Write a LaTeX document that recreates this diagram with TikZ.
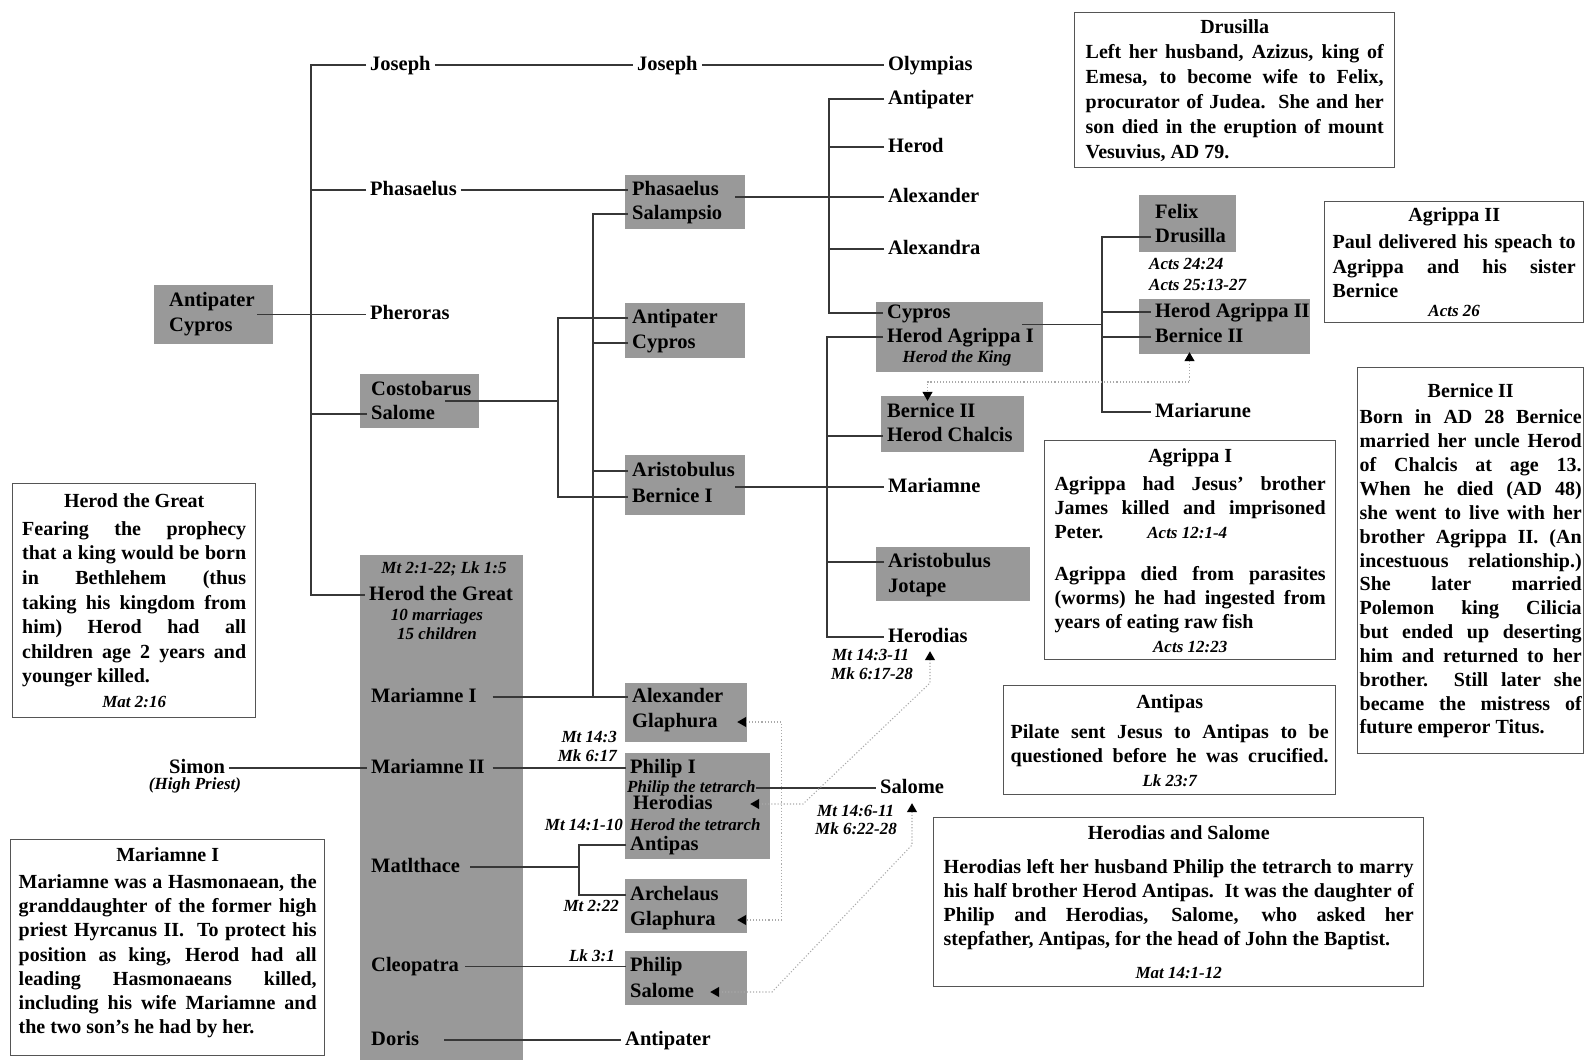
\documentclass[tikz,border=0pt]{standalone}
\usepackage{fontspec}
\setmainfont{Liberation Serif}
\usetikzlibrary{arrows.meta,fit}
\definecolor{boxgray}{RGB}{153,153,153}
\definecolor{linegray}{RGB}{55,55,55}
\definecolor{notegray}{RGB}{85,85,85}
\definecolor{dotgray}{RGB}{170,170,170}
\newcommand\nmfont{\fontsize{20.5}{24}\selectfont\bfseries}
\newcommand\rffont{\fontsize{17}{20}\selectfont\bfseries\itshape}
\newcommand\nt[1]{\hbox to\hsize{\hfil#1\hfil}}
\newcommand\jl[1]{\hbox to\hsize{#1}}
\newcommand\lf[1]{\hbox to\hsize{#1\hfil}}
\newcommand\notebody[3]{\vbox{\hsize=#1\fontsize{20}{#2}\selectfont\bfseries #3}}
\begin{document}
\begin{tikzpicture}[x=1pt,y=-1pt,
  nm/.style={anchor=west,font=\nmfont,inner xsep=4pt,inner ysep=2pt,text height=14pt,text depth=4pt},
  rf/.style={font=\rffont,inner sep=0pt,text height=12pt,text depth=3pt},
  gbox/.style={fill=boxgray,inner sep=0pt},
  note/.style={draw=notegray,line width=1.4pt,fill=white,inner sep=0pt,anchor=north west},
  ln/.style={draw=linegray,line width=1.3pt},
  dt/.style={draw=dotgray,line width=1.1pt,dotted},
  twotip/.style={{Triangle[length=9pt,width=10pt,color=black]}-{Triangle[length=9pt,width=10pt,color=black]}}]
\useasboundingbox (0,0) rectangle (1585,1060);
\fill[white] (0,0) rectangle (1585,1060);

% grey boxes
\node[gbox,fit={(154,285)(273,344)}] (bAC1) {};
\node[gbox,fit={(360,374)(479,428)}] (bCS) {};
\node[gbox,fit={(360,555)(523,1062)}] (bHG) {};
\node[gbox,fit={(625,175)(745,229)}] (bPS) {};
\node[gbox,fit={(625,303)(745,358)}] (bAC2) {};
\node[gbox,fit={(625,455)(745,515)}] (bAB) {};
\node[gbox,fit={(625,683)(747,742)}] (bAG) {};
\node[gbox,fit={(625,753)(770,859)}] (bPH) {};
\node[gbox,fit={(625,879)(747,933)}] (bArG) {};
\node[gbox,fit={(625,951)(747,1005)}] (bPSl) {};
\node[gbox,fit={(876,302)(1043,372)}] (bCH) {};
\node[gbox,fit={(881,396)(1024,452)}] (bBC) {};
\node[gbox,fit={(876,547)(1030,601)}] (bAJ) {};
\node[gbox,fit={(1139,195)(1236,252)}] (bFD) {};
\node[gbox,fit={(1139,299)(1310,354)}] (bAB2) {};

% names
\node[nm] (jos1) at (366,65) {Joseph};
\node[nm] (phas1) at (366,190) {Phasaelus};
\node[nm] (pher) at (366,314.5) {Pheroras};
\node[nm] (ac1A) at (165,301) {Antipater};
\node[nm] (ac1C) at (165,326) {Cypros};
\node[nm] (csC) at (367,390) {Costobarus};
\node[nm] (csS) at (367,414) {Salome};
\node[nm] (hgt) at (365,595) {Herod the Great};
\node[nm] (mar1) at (367,697) {Mariamne I};
\node[nm] (mar2) at (367,768) {Mariamne II};
\node[nm] (matl) at (367,867) {Matlthace};
\node[nm] (cleo) at (367,966.5) {Cleopatra};
\node[nm] (doris) at (367,1040) {Doris};
\node[nm] (simon) at (165,768) {Simon};
\node[nm] (jos2) at (633,65) {Joseph};
\node[nm] (psP) at (628,190) {Phasaelus};
\node[nm] (psS) at (628,214) {Salampsio};
\node[nm] (ac2A) at (628,318) {Antipater};
\node[nm] (ac2C) at (628,343) {Cypros};
\node[nm] (abA) at (628,471) {Aristobulus};
\node[nm] (abB) at (628,497) {Bernice I};
\node[nm] (agA) at (628,697) {Alexander};
\node[nm] (agG) at (628,722) {Glaphura};
\node[nm] (phP) at (626,768) {Philip I};
\node[rf,anchor=west] (phT) at (627,788) {Philip the tetrarch};
\node[nm] (phH) at (629,804) {Herodias};
\node[rf,anchor=west] (phHT) at (630,826) {Herod the tetrarch};
\node[nm] (phA) at (626,845) {Antipas};
\node[nm] (arA) at (626,895) {Archelaus};
\node[nm] (arG) at (626,920) {Glaphura};
\node[nm] (pslP) at (626,966.5) {Philip};
\node[nm] (pslS) at (626,992) {Salome};
\node[nm] (antp3) at (621,1040) {Antipater};
\node[nm] (olymp) at (884,65) {Olympias};
\node[nm] (c4a) at (884,99) {Antipater};
\node[nm] (c4h) at (884,147) {Herod};
\node[nm] (c4x) at (884,197) {Alexander};
\node[nm] (c4y) at (884,249) {Alexandra};
\node[nm] (chC) at (883,313) {Cypros};
\node[nm] (chH) at (883,337) {Herod Agrippa I};
\node[rf] (chK) at (957,358) {Herod the King};
\node[nm] (bcB) at (883,412) {Bernice II};
\node[nm] (bcH) at (883,436) {Herod Chalcis};
\node[nm] (mariamne) at (884,487) {Mariamne};
\node[nm] (ajA) at (884,562) {Aristobulus};
\node[nm] (ajJ) at (884,587) {Jotape};
\node[nm] (herodias) at (884,637) {Herodias};
\node[nm] (salome) at (876,788) {Salome};
\node[nm] (fdF) at (1151,213) {Felix};
\node[nm] (fdD) at (1151,237) {Drusilla};
\node[nm] (a2H) at (1151,312) {Herod Agrippa II};
\node[nm] (a2B) at (1151,337) {Bernice II};
\node[nm] (marr) at (1151,412) {Mariarune};

% references
\node[rf] (hgr) at (444,569) {Mt 2:1-22; Lk 1:5};
\node[rf] (hgm) at (437,616) {10 marriages};
\node[rf] (hgc) at (437,635) {15 children};
\node[rf,anchor=east] (r1) at (617,738) {Mt 14:3};
\node[rf,anchor=east] (r2) at (617,757) {Mk 6:17};
\node[rf,anchor=east] (r3) at (623,826) {Mt 14:1-10};
\node[rf,anchor=east] (r4) at (619,907) {Mt 2:22};
\node[rf,anchor=east] (r5) at (615,957) {Lk 3:1};
\node[rf,anchor=west] (r6) at (832,656) {Mt 14:3-11};
\node[rf,anchor=west] (r7) at (831,675) {Mk 6:17-28};
\node[rf,anchor=west] (r8) at (817,812) {Mt 14:6-11};
\node[rf,anchor=west] (r9) at (815,830) {Mk 6:22-28};
\node[rf,anchor=west] (r10) at (1149,265) {Acts 24:24};
\node[rf,anchor=west] (r11) at (1149,286) {Acts 25:13-27};
\node[rf] (hp) at (195,785) {(High Priest)};

% notes
\node[note,minimum width=320pt,minimum height=155pt] (nDru) at (1074,12) {\notebody{298pt}{25pt}{%
\nt{Drusilla}
\jl{Left her husband, Azizus, king of}
\jl{Emesa, to become wife to Felix,}
\jl{procurator of Judea.\ \ She and her}
\jl{son died in the eruption of mount}
\lf{Vesuvius, AD 79.}}};

\node[note,minimum width=259pt,minimum height=121pt] (nAg2) at (1324,201) {\notebody{243pt}{24.5pt}{%
\nt{Agrippa II}
\vskip2.5pt
\jl{Paul delivered his speach to}
\jl{Agrippa and his sister}
\lf{Bernice}
\vskip-5.5pt
\nt{\rffont Acts 26}}};

\node[note,minimum width=226pt,minimum height=386pt] (nBer) at (1357,367) {\notebody{222pt}{23.85pt}{%
\nt{Bernice II}
\vskip3pt
\jl{Born in AD 28 Bernice}
\jl{married her uncle Herod}
\jl{of Chalcis at age 13.}
\jl{When he died (AD 48)}
\jl{she went to live with her}
\jl{brother Agrippa II. (An}
\jl{incestuous relationship.)}
\jl{She later married}
\jl{Polemon king Cilicia}
\jl{but ended up deserting}
\jl{him and returned to her}
\jl{brother.\ \ Still later she}
\jl{became the mistress of}
\lf{future emperor Titus.}}};

\node[note,minimum width=291pt,minimum height=219pt] (nAg1) at (1044,440) {\notebody{271pt}{24pt}{%
\nt{Agrippa I}
\vskip4pt
\jl{Agrippa had Jesus’ brother}
\jl{James killed and imprisoned}
\lf{Peter.\hskip44pt{\rffont Acts 12:1-4}}
\vskip18pt
\jl{Agrippa died from parasites}
\jl{(worms) he had ingested from}
\lf{years of eating raw fish}
\nt{\rffont Acts 12:23}}};

\node[note,minimum width=332pt,minimum height=109pt] (nAnt) at (1003,685) {\notebody{318pt}{24pt}{%
\nt{Antipas}
\vskip6pt
\jl{Pilate sent Jesus to Antipas to be}
\jl{questioned before he was crucified.}
\nt{\rffont Lk 23:7}}};

\node[note,minimum width=490pt,minimum height=169pt] (nHS) at (933,817) {\notebody{470pt}{24.3pt}{%
\nt{Herodias and Salome}
\vskip9pt
\jl{Herodias left her husband Philip the tetrarch to marry}
\jl{his half brother Herod Antipas.\ \ It was the daughter of}
\jl{Philip and Herodias, Salome, who asked her}
\lf{stepfather, Antipas, for the head of John the Baptist.}
\vskip8pt
\nt{\rffont Mat 14:1-12}}};

\node[note,minimum width=243pt,minimum height=234pt] (nHG) at (12,483) {\notebody{224pt}{24.6pt}{%
\nt{Herod the Great}
\vskip3pt
\jl{Fearing the prophecy}
\jl{that a king would be born}
\jl{in Bethlehem (thus}
\jl{taking his kingdom from}
\jl{him) Herod had all}
\jl{children age 2 years and}
\lf{younger killed.}
\nt{\rffont Mat 2:16}}};

\node[note,minimum width=314pt,minimum height=216pt] (nMar) at (10,839) {\notebody{298pt}{24.2pt}{%
\nt{Mariamne I}
\vskip3pt
\jl{Mariamne was a Hasmonaean, the}
\jl{granddaughter of the former high}
\jl{priest Hyrcanus II.\ \ To protect his}
\jl{position as king, Herod had all}
\jl{leading Hasmonaeans killed,}
\jl{including his wife Mariamne and}
\lf{the two son’s he had by her.}
\vskip10pt}};

% solid connectors
\coordinate (v1) at (311,65);
\draw[ln] (jos1.west) -- (v1) |- (hgt.west);
\draw[ln] (phas1.west) -- (phas1.west -| v1);
\draw[ln] (csS.west) -- (csS.west -| v1);
\draw[ln] ([xshift=-16pt]bAC1.east) -- (pher.west);
\draw[ln] (jos1.east) -- (jos2.west);
\draw[ln] (jos2.east) -- (olymp.west);
\draw[ln] (phas1.east) -- (psP.west);
\coordinate (v4) at (829,99);
\draw[ln] (c4a.west) -- (v4) |- (chC.west);
\draw[ln] (c4h.west) -- (c4h.west -| v4);
\draw[ln] (c4y.west) -- (c4y.west -| v4);
\draw[ln] ([xshift=-10pt]bPS.east |- c4x.west) -- (c4x.west);
\coordinate (v3) at (593,214);
\draw[ln] (psS.west) -- (v3) -- (v3 |- mar1.east);
\draw[ln] (ac2C.west) -- (ac2C.west -| v3);
\draw[ln] (abA.west) -- (abA.west -| v3);
\draw[ln,shorten <=12pt] (mar1.east) -- (agA.west);
\coordinate (v2) at (558,318);
\draw[ln] (ac2A.west) -- (v2) |- (abB.west);
\draw[ln] ([xshift=-34pt]bCS.east) -- (bCS.east -| v2);
\coordinate (v6) at (827,337);
\draw[ln] (chH.west) -- (v6) |- (herodias.west);
\draw[ln] (bcH.west) -- (bcH.west -| v6);
\draw[ln] (ajA.west) -- (ajA.west -| v6);
\draw[ln] ([xshift=-10pt]bAB.east |- mariamne.west) -- (mariamne.west);
\coordinate (v5) at (1102,237);
\draw[ln] (fdD.west) -- (v5) |- (marr.west);
\draw[ln] (a2H.west) -- (a2H.west -| v5);
\draw[ln] (a2B.west) -- (a2B.west -| v5);
\coordinate (jCH) at (1102,324.5);
\draw[ln] ([xshift=-21pt]bCH.east |- jCH) -- (jCH);
\draw[ln,shorten <=4pt] (mar2.east) -- (phP.west);
\draw[ln] (simon.east) -- (mar2.west);
\draw[ln] (phT.east) -- (salome.west);
\coordinate (v7) at (579,845);
\draw[ln] (phA.west) -- (v7) |- (arA.west);
\draw[ln,shorten <=6pt] (matl.east) -- (matl.east -| v7);
\draw[ln,shorten <=2pt] (cleo.east) -- (pslP.west);
\draw[ln,shorten <=21pt] (doris.east) -- (antp3.west);

% dotted connectors
\coordinate (dj1) at (0,382);
\draw[dt,twotip] ([xshift=-35pt,yshift=2pt]bAB2.south) -- ([xshift=-35pt]bAB2.south |- dj1) -| ([xshift=-25pt,yshift=-5pt]bBC.north);
\draw[dt,twotip] ([xshift=-10pt]bAG.east |- agG.west) -- ++(44,0) |- ([xshift=-10pt]bArG.east |- arG.west);
\coordinate (dh1) at (803,804);
\coordinate (dh2) at (930,683);
\draw[dt,twotip] ([xshift=-20pt]bPH.east |- phH.west) -- (dh1) -- (dh2) -- ([yshift=-3pt]herodias.south -| dh2);
\coordinate (ds1) at (772,992);
\coordinate (ds2) at (912,845);
\draw[dt,twotip] ([xshift=-37pt]bPSl.east |- pslS.west) -- (ds1) -- (ds2) -- ([yshift=-4pt]salome.south -| ds2);
\end{tikzpicture}
\end{document}
